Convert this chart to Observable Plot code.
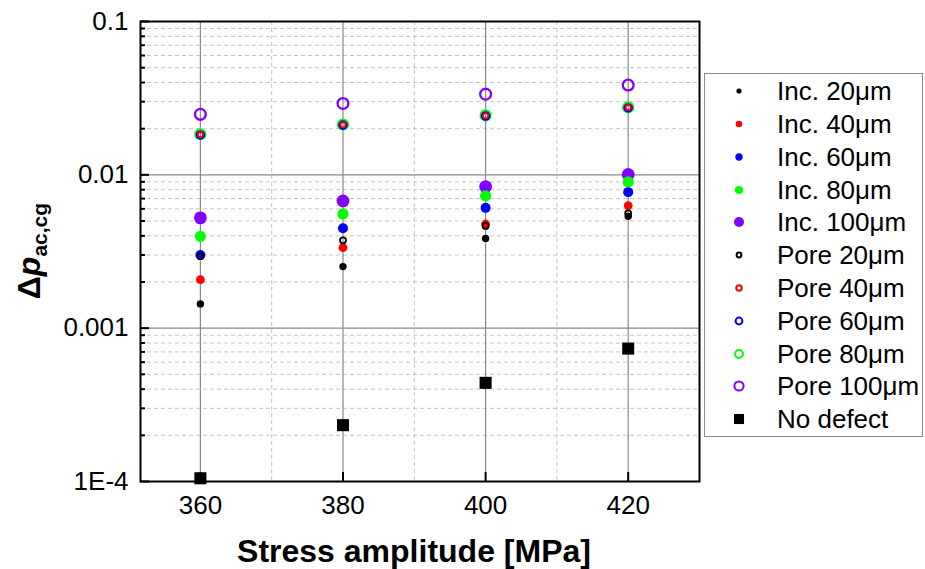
<!DOCTYPE html>
<html><head><meta charset="utf-8">
<script src="https://cdn.jsdelivr.net/npm/d3@7"></script>
<script src="https://cdn.jsdelivr.net/npm/@observablehq/plot@0.6"></script>
<style>
body{margin:0;background:#fff;font-family:"Liberation Sans",Arial,sans-serif;}
#wrap{position:relative;width:925px;height:569px;overflow:hidden;}
#legend{position:absolute;left:704px;top:73px;width:219px;height:364px;border:1px solid #8c8c8c;box-sizing:border-box;background:#fff;}
.row{position:absolute;left:0;width:219px;height:33px;}
.row svg{position:absolute;left:24px;top:6px;}
.row span{position:absolute;left:72px;top:0;line-height:33px;font-size:26px;white-space:nowrap;color:#000;}
</style></head>
<body><div id="wrap"></div>
<script>
// ---- data ----
const stress = [360, 380, 400, 420];
const inc20  = [0.00144, 0.00252, 0.00385, 0.00536];
const inc40  = [0.00207, 0.00335, 0.00478, 0.00630];
const inc60  = [0.00300, 0.00448, 0.00609, 0.00771];
const inc80  = [0.00397, 0.00556, 0.00729, 0.00900];
const inc100 = [0.00524, 0.00676, 0.00838, 0.01005];
const pore20 = [0.00295, 0.00374, 0.00464, 0.00561];
const pore40 = [0.0183, 0.0212, 0.0243, 0.0275];
const pore60 = [0.0182, 0.0211, 0.0242, 0.0273];
const pore80 = [0.0184, 0.0213, 0.0244, 0.0276];
const pore100 = [0.0248, 0.0292, 0.0336, 0.0385];
const noDefect = [0.000105, 0.000233, 0.000440, 0.000736];
const names = ["Inc. 20μm","Inc. 40μm","Inc. 60μm","Inc. 80μm","Inc. 100μm",
               "Pore 20μm","Pore 40μm","Pore 60μm","Pore 80μm","Pore 100μm","No defect"];
const yMajorTicks = [0.1, 0.01, 0.001, 0.0001];
const yTickLabels = ["0.1", "0.01", "0.001", "1E-4"];
const xMajorTicks = [360, 380, 400, 420];
const xMinorTicks = [370, 390, 410];

// ---- styles ----
const seriesValues = [inc20, inc40, inc60, inc80, inc100, pore20, pore40, pore60, pore80, pore100, noDefect];
const styles = [
  {kind:"fill", color:"#000000", r:3.7, lr:2.6},
  {kind:"fill", color:"#ff0000", r:4.4, lr:3.3},
  {kind:"fill", color:"#0000ff", r:5.0, lr:3.7},
  {kind:"fill", color:"#00ff00", r:5.6, lr:4.1},
  {kind:"fill", color:"#8000ff", r:6.4, lr:5.0},
  {kind:"ring", color:"#000000", r:3.0, lr:2.4, sw:1.8},
  {kind:"ring", color:"#ff0000", r:2.6, lr:2.8, sw:1.8},
  {kind:"ring", color:"#0000ff", r:3.8, lr:3.4, sw:2},
  {kind:"ring", color:"#00ff00", r:5.0, lr:3.9, sw:2.2},
  {kind:"ring", color:"#8000ff", r:5.4, lr:4.6, sw:2.3}
  , {kind:"square", color:"#000000", r:6.8, lr:5.6}
];

const yMinor = [];
for (const d of [0.0001, 0.001, 0.01]) for (let k = 2; k <= 9; k++) yMinor.push(+(d * k).toPrecision(3));

const W = 925, H = 569, mL = 140, mR = 226, mT = 21, mB = 88;
const plotW = W - mL - mR, plotH = H - mT - mB;

const seriesMarks = [];
// draw order: inclusions, pores (rings on top), then no defect
[4,3,2,1,0,9,8,7,6,5,10].forEach(i => {
  const s = styles[i];
  const data = stress.map((x, j) => ({x, y: seriesValues[i][j]}));
  if (s.kind === "fill") seriesMarks.push(Plot.dot(data, {x:"x", y:"y", r:s.r, fill:s.color, stroke:"none"}));
  else if (s.kind === "ring") seriesMarks.push(Plot.dot(data, {x:"x", y:"y", r:s.r, fill:"none", stroke:s.color, strokeWidth:s.sw}));
  else seriesMarks.push(Plot.dot(data, {x:"x", y:"y", r:s.r, symbol:"square", fill:s.color, stroke:"none"}));
});

const chart = Plot.plot({
  width: W, height: H,
  marginLeft: mL, marginRight: mR, marginTop: mT, marginBottom: mB,
  style: {fontFamily: "'Liberation Sans', Arial, sans-serif", fontSize: "26px", color: "#000", background: "transparent"},
  x: {domain: [351.6, 430]},
  y: {type: "log", domain: [0.0001, 0.1]},
  marks: [
    Plot.ruleY(yMinor, {stroke:"#c4c4c4", strokeWidth:1, strokeDasharray:"4,3"}),
    Plot.ruleX(xMinorTicks, {stroke:"#c4c4c4", strokeWidth:1, strokeDasharray:"4,3"}),
    Plot.ruleY([0.01, 0.001], {stroke:"#8a8a8a", strokeWidth:1.2}),
    Plot.ruleX(xMajorTicks, {stroke:"#8a8a8a", strokeWidth:1.2}),
    ...seriesMarks,
    Plot.tickY(yMinor, {y: d => d, stroke:"#000", strokeWidth:2, insetRight: plotW - 5}),
    Plot.tickY(yMajorTicks, {y: d => d, stroke:"#000", strokeWidth:2, insetRight: plotW - 9}),
    Plot.tickX(xMajorTicks, {x: d => d, stroke:"#000", strokeWidth:2, insetTop: plotH - 9}),
    Plot.frame({stroke:"#000", strokeWidth:2}),
    Plot.axisY(yMajorTicks, {anchor:"left", tickSize:0, tickPadding:12, label:null,
      tickFormat: d => yTickLabels[yMajorTicks.indexOf(d)], fontSize: 26}),
    Plot.axisX(xMajorTicks, {anchor:"bottom", tickSize:0, tickPadding:14, label:null, fontSize: 26})
  ]
});
document.getElementById("wrap").appendChild(chart);

const svg = d3.select(chart);
svg.append("text")
  .attr("x", 414).attr("y", 562)
  .attr("text-anchor", "middle").attr("font-weight", "bold").attr("font-size", 32)
  .attr("fill", "#000").text("Stress amplitude [MPa]");
const yt = svg.append("text")
  .attr("transform", "translate(40,251) rotate(-90)")
  .attr("text-anchor", "middle").attr("font-weight", "bold").attr("font-size", 32).attr("fill", "#000");
yt.append("tspan").text("Δ");
yt.append("tspan").attr("font-style", "italic").text("p");
yt.append("tspan").attr("font-size", 21).attr("dy", 7).text("ac,cg");

// ---- legend ----
const legend = document.createElement("div");
legend.id = "legend";
names.forEach((name, i) => {
  const s = styles[i];
  const row = document.createElement("div");
  row.className = "row";
  row.style.top = (1.2 + i * 32.8) + "px";
  let shape;
  if (s.kind === "fill") shape = `<circle cx="10" cy="10" r="${s.lr}" fill="${s.color}"/>`;
  else if (s.kind === "ring") shape = `<circle cx="10" cy="10" r="${s.lr}" fill="none" stroke="${s.color}" stroke-width="2"/>`;
  else shape = `<rect x="${10 - s.lr * 0.9}" y="${10 - s.lr * 0.9}" width="${s.lr * 1.8}" height="${s.lr * 1.8}" fill="${s.color}"/>`;
  row.innerHTML = `<svg width="20" height="20">${shape}</svg><span>${name}</span>`;
  legend.appendChild(row);
});
document.getElementById("wrap").appendChild(legend);
</script></body></html>
